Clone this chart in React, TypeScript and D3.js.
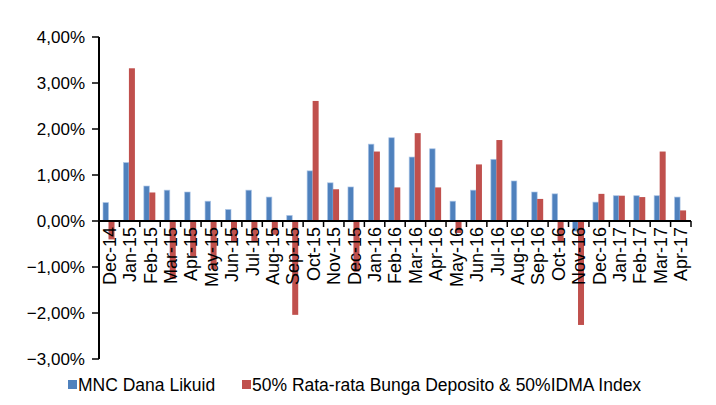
import React from "react";
import * as d3 from "d3";

const categories = [
  "Dec-14", "Jan-15", "Feb-15", "Mar-15", "Apr-15", "May-15", "Jun-15", "Jul-15",
  "Aug-15", "Sep-15", "Oct-15", "Nov-15", "Dec-15", "Jan-16", "Feb-16", "Mar-16",
  "Apr-16", "May-16", "Jun-16", "Jul-16", "Aug-16", "Sep-16", "Oct-16", "Nov-16",
  "Dec-16", "Jan-17", "Feb-17", "Mar-17", "Apr-17",
];

const fundValues = [
  0.40, 1.27, 0.76, 0.67, 0.63, 0.43, 0.25, 0.67,
  0.52, 0.12, 1.09, 0.83, 0.74, 1.67, 1.81, 1.39,
  1.57, 0.43, 0.67, 1.34, 0.87, 0.63, 0.59, -0.22,
  0.41, 0.55, 0.55, 0.55, 0.52,
];

const benchmarkValues = [
  -0.40, 3.32, 0.62, -1.26, -0.77, -1.05, -0.46, -0.46,
  -0.30, -2.04, 2.61, 0.69, -1.10, 1.51, 0.73, 1.91,
  0.73, -0.26, 1.23, 1.76, 0.0, 0.48, -0.44, -2.26,
  0.59, 0.55, 0.52, 1.51, 0.23,
];

const yTicks = [4, 3, 2, 1, 0, -1, -2, -3];

const seriesNames = ["MNC Dana Likuid", "50% Rata-rata Bunga Deposito & 50%IDMA Index"];

const BLUE = "#4F81BD";
const RED = "#C0504D";
const FONT = "'Liberation Sans', Arial, sans-serif";

export default function App() {
  const W = 716;
  const H = 405;
  const x0 = 99;
  const x1 = 691;
  const yTop = 37;
  const yBot = 359;

  const x = d3.scaleBand<string>().domain(categories).range([x0, x1]).padding(0);
  const y = d3.scaleLinear().domain([-3, 4]).range([yBot, yTop]);
  const bw = x.bandwidth();
  const zeroY = y(0);
  const fmt = (v: number) => d3.format(".2f")(v).replace(".", ",") + "%";

  const bars: React.ReactNode[] = [];
  categories.forEach((c, i) => {
    const bx = x(c)!;
    const fv = fundValues[i];
    const bv = benchmarkValues[i];
    bars.push(
      <rect
        key={"f" + i}
        x={bx + 4}
        y={Math.min(y(fv), zeroY)}
        width={5.5}
        height={Math.abs(y(fv) - zeroY)}
        fill={BLUE}
        stroke="#A9C3E6"
        strokeWidth={0.8}
        strokeOpacity={0.8}
      />
    );
    bars.push(
      <rect
        key={"b" + i}
        x={bx + 9.5}
        y={Math.min(y(bv), zeroY)}
        width={6}
        height={Math.abs(y(bv) - zeroY)}
        fill={RED}
      />
    );
  });

  const boundaries = categories.map((c) => x(c)!).concat([x1]);

  return (
    <svg
      width={W}
      height={H}
      style={{ position: "absolute", left: 0, top: 0, background: "#fff" }}
      fontFamily={FONT}
    >
      <rect x={0} y={0} width={W} height={H} fill="#fff" />
      {bars}
      {/* Y axis */}
      <line x1={x0} x2={x0} y1={yTop} y2={yBot} stroke="#000" strokeWidth={2} />
      {yTicks.map((t) => (
        <g key={t}>
          <line x1={x0 - 7} x2={x0} y1={y(t)} y2={y(t)} stroke="#000" strokeWidth={1.5} />
          <text x={x0 - 14} y={y(t)} dy="0.36em" textAnchor="end" fontSize={17} fill="#000">
            {fmt(t)}
          </text>
        </g>
      ))}
      {/* X axis */}
      <line x1={x0} x2={x1} y1={zeroY} y2={zeroY} stroke="#000" strokeWidth={2} />
      {boundaries.map((bx, i) => (
        <line key={"t" + i} x1={bx} x2={bx} y1={zeroY} y2={zeroY + 6} stroke="#000" strokeWidth={1.5} />
      ))}
      {categories.map((c) => {
        const cx = x(c)! + bw / 2;
        const ty = zeroY + 6;
        return (
          <text
            key={c}
            transform={`translate(${cx},${ty}) rotate(-90)`}
            textAnchor="end"
            dy="0.36em"
            fontSize={18}
            fill="#000"
          >
            {c}
          </text>
        );
      })}
      {/* Legend */}
      <rect x={68} y={380} width={9} height={9} fill={BLUE} />
      <text x={78} y={391} fontSize={17.5} fill="#000">{seriesNames[0]}</text>
      <rect x={242} y={380} width={9} height={9} fill={RED} />
      <text x={252} y={391} fontSize={17.5} fill="#000">{seriesNames[1]}</text>
    </svg>
  );
}
